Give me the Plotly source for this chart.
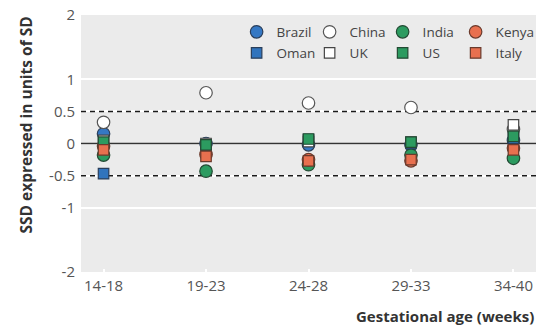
import plotly.graph_objects as go

categories = ["14-18", "19-23", "24-28", "29-33", "34-40"]

brazil = [0.15, 0.0, -0.02, -0.02, 0.05]
china = [0.33, 0.79, 0.63, 0.56, 0.22]
india = [-0.18, -0.43, -0.33, -0.18, -0.23]
kenya = [-0.04, -0.17, -0.25, -0.27, -0.07]
oman = [-0.47, -0.02, 0.06, 0.0, 0.08]
uk = [0.05, 0.0, 0.03, 0.02, 0.29]
us = [0.02, -0.02, 0.07, 0.02, 0.11]
italy = [-0.1, -0.2, -0.27, -0.25, -0.1]

ref_levels = [0.5, 0.0, -0.5]

y_tickvals = [2, 1, 0.5, 0, -0.5, -1, -2]
y_ticktext = ["2", "1", "0.5", "0", "-0.5", "-1", "-2"]

x_pos = list(range(len(categories)))
x_range = [-0.22, 4.22]

series = [
    ("Brazil", brazil, "circle", "#3578c4", "#2a3e5a", "legend"),
    ("China", china, "circle", "#ffffff", "#555555", "legend"),
    ("India", india, "circle", "#2c9b60", "#224a33", "legend"),
    ("Kenya", kenya, "circle", "#e8704f", "#6a3a2c", "legend"),
    ("Oman", oman, "square", "#3174bd", "#2a3e5a", "legend2"),
    ("UK", uk, "square", "#ffffff", "#444444", "legend2"),
    ("US", us, "square", "#2c9b60", "#224a33", "legend2"),
    ("Italy", italy, "square", "#e8704f", "#6a3a2c", "legend2"),
]

fig = go.Figure()

# reference lines (drawn first so markers sit on top)
for yv in ref_levels:
    fig.add_trace(go.Scatter(
        x=x_range, y=[yv, yv], mode="lines", showlegend=False, hoverinfo="skip",
        line=dict(color="#333333" if yv == 0 else "#1a1a1a", width=1.5,
                  dash="solid" if yv == 0 else "5px,4px"),
    ))

for name, vals, sym, fill, edge, lg in series:
    fig.add_trace(go.Scatter(
        x=x_pos, y=vals, mode="markers", name=name, legend=lg,
        legendwidth=42 if name in ("Kenya", "Italy") else None,
        marker=dict(symbol=sym, size=12.5 if sym == "circle" else 10.5, color=fill,
                    line=dict(color=edge, width=1.2)),
    ))

font_family = "Open Sans, Noto Sans, sans-serif"

legend_common = dict(orientation="h", bgcolor="rgba(0,0,0,0)", borderwidth=0,
                     font=dict(family=font_family, size=13.5, color="#444444"),
                     entrywidth=28, entrywidthmode="pixels", xanchor="left",
                     yanchor="top", itemclick=False, itemdoubleclick=False)

fig.update_layout(
    width=550, height=330,
    margin=dict(l=81, r=14, t=15, b=58, autoexpand=False),
    paper_bgcolor="white",
    plot_bgcolor="#ebebeb",
    font=dict(family=font_family, size=14, color="#555555"),
    showlegend=True,
    legend=dict(**legend_common, x=0.342, y=0.994),
    legend2=dict(**legend_common, x=0.342, y=0.912),
    xaxis=dict(
        range=x_range, tickvals=x_pos, ticktext=categories,
        showgrid=False, zeroline=False,
        ticks="inside", ticklen=3, tickcolor="white", tickwidth=1.5,
        tickfont=dict(size=15, color="#555555"), showline=False,
        ticklabelstandoff=3,
    ),
    yaxis=dict(
        range=[-2, 2], tickvals=y_tickvals, ticktext=y_ticktext,
        showgrid=True, gridcolor="white", gridwidth=1.5, zeroline=False,
        tickfont=dict(size=15, color="#555555"), ticks="", showline=False,
        ticklabelstandoff=5,
    ),
    annotations=[
        dict(text="<b>Gestational age (weeks)</b>", xref="paper", yref="paper",
             x=1.0, y=-0.171, xanchor="right", yanchor="middle", showarrow=False,
             font=dict(size=15, color="#333333", family=font_family)),
        dict(text="<b>SSD expressed in units of SD</b>", xref="paper", yref="paper",
             x=-0.123, y=0.57, xanchor="center", yanchor="middle", showarrow=False,
             textangle=-90, font=dict(size=15.5, color="#333333", family=font_family)),
    ],
)

fig.write_html("out.html")
